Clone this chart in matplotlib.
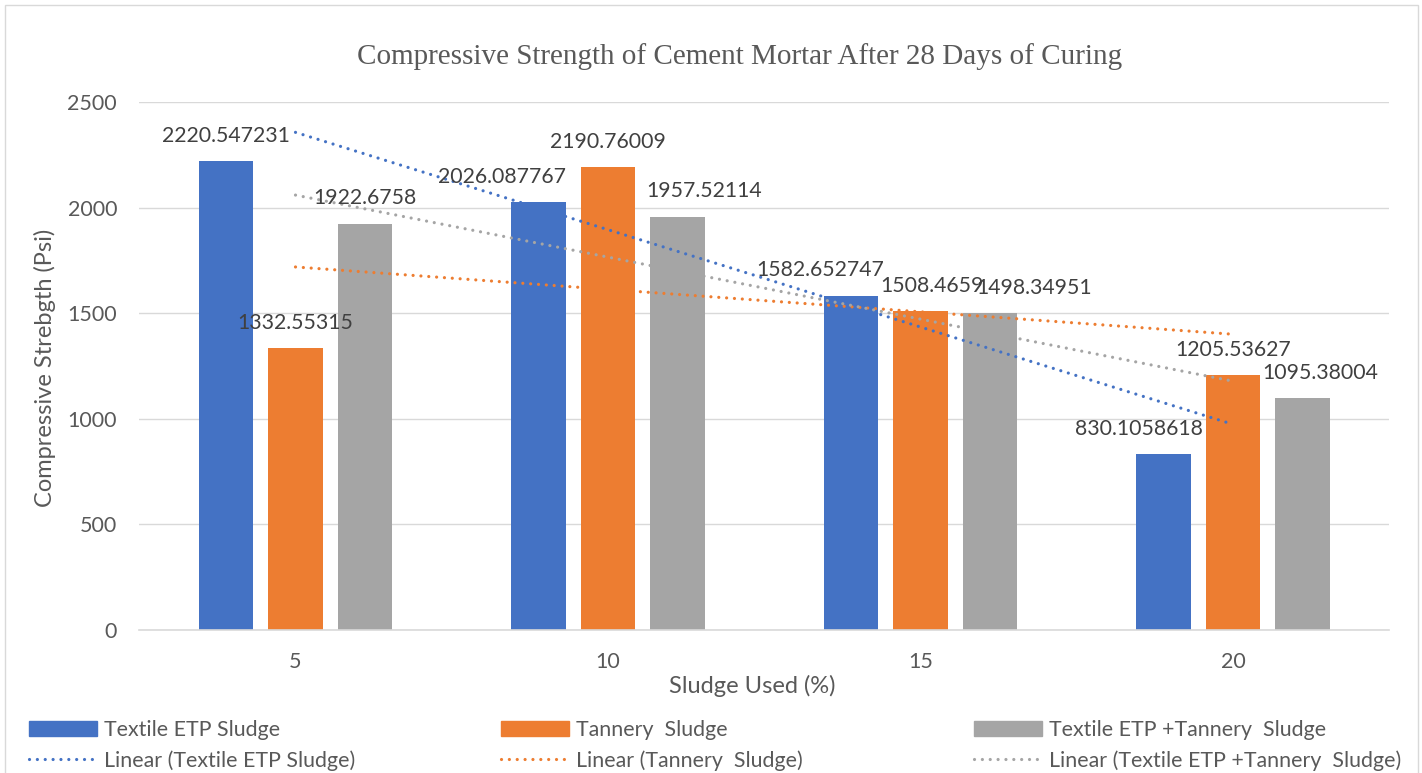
import matplotlib
matplotlib.use('Agg')
import matplotlib.pyplot as plt
import matplotlib.patches as mpatches
from matplotlib.lines import Line2D
import numpy as np

plt.rcParams['font.family'] = ['Lato', 'DejaVu Sans']

# data
categories = ['5', '10', '15', '20']
textile = [2220.547231, 2026.087767, 1582.652747, 830.1058618]
tannery = [1332.55315, 2190.76009, 1508.4659, 1205.53627]
mixed = [1922.6758, 1957.52114, 1498.34951, 1095.38004]
label_text = [
    ['2220.547231', '2026.087767', '1582.652747', '830.1058618'],
    ['1332.55315', '2190.76009', '1508.4659', '1205.53627'],
    ['1922.6758', '1957.52114', '1498.34951', '1095.38004'],
]
series_names = ['Textile ETP Sludge', 'Tannery  Sludge', 'Textile ETP +Tannery  Sludge']

colors = ['#4472C4', '#ED7D31', '#A5A5A5']
# horizontal nudges (pixels) of the data labels, as placed in the original
nudge = [[0, -37, -31, -25], [0, 0, 11, 0], [0, 27, 44, 18]]

dots = (0, (0.01, 2.45))

W, H = 1422, 773
fig = plt.figure(figsize=(W / 100, H / 100), dpi=100)
ax = fig.add_axes([139.25 / W, 1 - 629.5 / H, 1250 / W, 527.3 / H])

x = np.arange(len(categories))
bw = 0.174
step = 0.222
series = [textile, tannery, mixed]

for i, vals in enumerate(series):
    ax.bar(x + (i - 1) * step, vals, width=bw, color=colors[i], zorder=2)
    for j, v in enumerate(vals):
        ax.annotate(label_text[i][j], (x[j] + (i - 1) * step, v),
                    xytext=(nudge[i][j], 25.5), textcoords='offset pixels',
                    ha='center', va='center', fontsize=15.3, color='#404040',
                    zorder=4)

for i, vals in enumerate(series):
    m, c = np.polyfit(x, vals, 1)
    ax.plot(x, m * x + c, color=colors[i], lw=2.3, linestyle=dots,
            dash_capstyle='round', zorder=3)

ax.set_xlim(-0.5, 3.5)
ax.set_ylim(0, 2500)
ax.set_yticks(np.arange(0, 2501, 500))
ax.set_xticks(x)
ax.set_xticklabels(categories)
ax.grid(axis='y', color='#D9D9D9', lw=1, zorder=0)
ax.set_axisbelow(True)
for s in ['left', 'right', 'top']:
    ax.spines[s].set_visible(False)
ax.spines['bottom'].set_color('#D9D9D9')
ax.spines['bottom'].set_linewidth(1.2)
ax.tick_params(length=0, pad=16, labelsize=15.5, labelcolor='#595959')

fig.text(740 / W, 1 - 57 / H, 'Compressive Strength of Cement Mortar After 28 Days of Curing',
         ha='center', va='center', fontsize=21, color='#595959',
         family='Liberation Serif')
fig.text(752 / W, 1 - 686 / H, 'Sludge Used (%)', ha='center', va='center',
         fontsize=17, color='#595959')
fig.text(45 / W, 1 - 368 / H, 'Compressive Strebgth (Psi)', ha='center',
         va='center', rotation=90, fontsize=17, color='#595959')

# legend, one block per column
col_x = [29, 501, 974]
for i in range(3):
    h_bar = mpatches.Patch(color=colors[i])
    h_line = Line2D([], [], color=colors[i], lw=2.3, linestyle=dots,
                    dash_capstyle='round')
    fig.legend([h_bar, h_line],
               [series_names[i], 'Linear (' + series_names[i] + ')'],
               loc='center left', bbox_to_anchor=(col_x[i] / W, 1 - 745.5 / H),
               frameon=False, fontsize=15.4, handlelength=3.2, handletextpad=0.3,
               labelspacing=0.45, borderpad=0, borderaxespad=0,
               labelcolor='#595959')

fig.patches.append(mpatches.Rectangle((5 / W, -0.1), 1413 / W, 1.1 - 5 / H,
                                      transform=fig.transFigure, fill=False,
                                      edgecolor='#D9D9D9', lw=1))

plt.savefig('out.png', dpi=100)
